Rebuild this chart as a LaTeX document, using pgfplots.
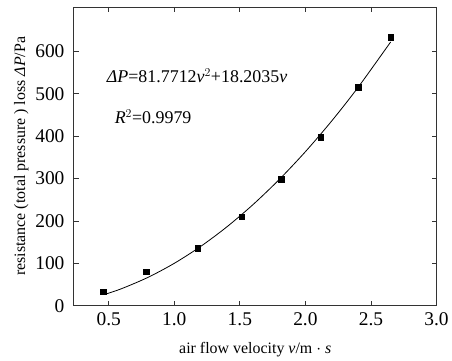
\documentclass[border=0pt]{standalone}
\usepackage{fontspec}
\setmainfont{Liberation Serif}
\usepackage{pgfplots}
\pgfplotsset{compat=1.18}
\begin{document}
\begin{tikzpicture}
\begin{axis}[
  width=363bp, height=299bp, scale only axis,
  xmin=0.235, xmax=3.0, ymin=0, ymax=705,
  xtick={0.5,1.0,1.5,2.0,2.5,3.0},
  xticklabels={0.5,1.0,1.5,2.0,2.5,3.0},
  ytick={0,100,200,300,400,500,600},
  tick align=inside, major tick length=5bp,
  axis line style={line width=0.9bp, black!80},
  tick style={line width=0.8bp, black!80},
  /pgf/number format/assume math mode=true,
  every tick label/.append style={font=\fontsize{19.5}{21}\selectfont},
  xticklabel style={yshift=-3bp},
  yticklabel style={xshift=-6bp},
  label style={font=\fontsize{16}{18}\selectfont},
  xlabel={air flow velocity \textit{v}/m $\cdot$ \textit{s}},
  ylabel={resistance (total pressure ) loss \textit{ΔP}/Pa},
  xlabel style={yshift=-10bp},
  ylabel style={yshift=0bp},
  clip=false,
]
\addplot[black, line width=0.8bp, smooth] coordinates {
  (0.47,26.62) (0.6,40.36) (0.8,66.90) (1.0,99.97) (1.2,139.59) (1.4,185.76)
  (1.6,238.46) (1.8,297.71) (2.0,363.49) (2.2,435.82) (2.4,514.69) (2.65,622.48)
};
\addplot[only marks, mark=square*, mark size=2.8bp, black] coordinates {
  (0.457,33) (0.786,80) (1.18,136) (1.513,210) (1.816,299) (2.116,397) (2.404,516) (2.65,633)
};
\node[anchor=west, font=\fontsize{18}{20}\selectfont, inner sep=0pt] at (axis cs:0.485,542) {\textit{ΔP}=81.7712\textit{v}$^2$+18.2035\textit{v}};
\node[anchor=west, font=\fontsize{18}{20}\selectfont, inner sep=0pt] at (axis cs:0.545,446) {\textit{R}$^2$=0.9979};
\end{axis}
\path (current axis.south west) ++(-74bp,-54bp) rectangle ++(452bp,360bp);
\end{tikzpicture}
\end{document}
